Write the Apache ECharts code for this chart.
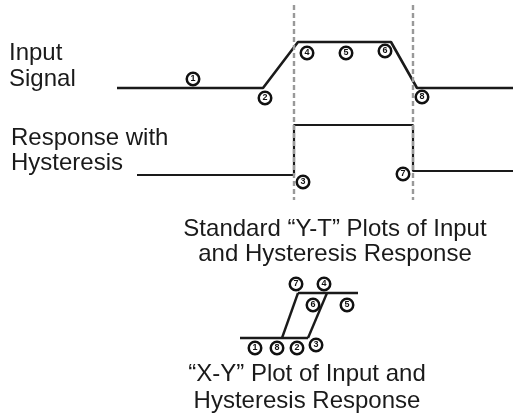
<!DOCTYPE html>
<html>
<head>
<meta charset="utf-8">
<script src="https://cdn.jsdelivr.net/npm/echarts@6/dist/echarts.min.js"></script>
<style>
  html, body { margin: 0; padding: 0; background: #fff; }
  #chart { width: 513px; height: 415px; }
</style>
</head>
<body>
<div id="chart"></div>
<script>
// diagram units: x to the right, y downwards (0..513 x 0..415)
// Y-T plot: input signal trace
const inputX = [117, 263, 298, 391, 417, 513];
const inputY = [88, 88, 42, 42, 88, 88];
// Y-T plot: response with hysteresis
const responseX = [137, 294, 294, 413, 413, 513];
const responseY = [175, 175, 125, 125, 171, 171];
// switching instants (dashed guides)
const switchX = [294, 413];
const guideTop = 5;
const guideBottom = 200;
// X-Y plot: hysteresis loop segments [x1, y1, x2, y2]
const loopSegments = [
  [240, 338, 308, 338],
  [282, 338, 298, 293],
  [308, 338, 327, 293],
  [298, 293, 358, 293]
];
// numbered markers
const markerLabels = ['1', '2', '3', '4', '5', '6', '7', '8'];
const markerYTx = [193, 265, 303, 307, 346, 385, 403, 422];
const markerYTy = [79, 98, 182, 53, 53, 51, 174, 97];
const markerXYx = [255, 297, 316, 324, 347, 313, 296, 277];
const markerXYy = [348, 348, 345, 284, 305, 305, 284, 348];

const chartDom = document.getElementById('chart');
const myChart = echarts.init(chartDom, null, { renderer: 'canvas' });

const zip = (xs, ys) => xs.map((x, i) => [x, ys[i]]);
const markerData = [];
markerLabels.forEach((l, i) => {
  markerData.push([markerYTx[i], markerYTy[i], l]);
  markerData.push([markerXYx[i], markerXYy[i], l]);
});

const font = 'Liberation Sans, Arial, Helvetica, sans-serif';
const textItem = (text, x, y, align) => ({
  type: 'text',
  x: x,
  y: y,
  style: {
    text: text,
    fill: '#1a1a1a',
    font: '24px ' + font,
    textAlign: align,
    textVerticalAlign: 'middle'
  }
});

const option = {
  animation: false,
  grid: { left: 0, right: 0, top: 0, bottom: 0 },
  xAxis: { type: 'value', min: 0, max: 513, show: false },
  yAxis: { type: 'value', min: 0, max: 415, inverse: true, show: false },
  graphic: [
    textItem('Input', 9, 53.5, 'left'),
    textItem('Signal', 9, 79.5, 'left'),
    textItem('Response with', 11, 138.5, 'left'),
    textItem('Hysteresis', 11, 163.5, 'left'),
    textItem('Standard \u201CY-T\u201D Plots of Input', 335, 229.5, 'center'),
    textItem('and Hysteresis Response', 335, 254.5, 'center'),
    textItem('\u201CX-Y\u201D Plot of Input and', 307, 374.5, 'center'),
    textItem('Hysteresis Response', 307, 401.5, 'center')
  ],
  series: [
    {
      name: 'Input Signal',
      type: 'line',
      data: zip(inputX, inputY),
      symbol: 'none',
      lineStyle: { color: '#1a1a1a', width: 2.6 },
      z: 2
    },
    {
      name: 'Response',
      type: 'line',
      data: zip(responseX, responseY),
      symbol: 'none',
      lineStyle: { color: '#1a1a1a', width: 2.2 },
      z: 2
    },
    {
      name: 'Switching',
      type: 'lines',
      coordinateSystem: 'cartesian2d',
      data: switchX.map(x => ({ coords: [[x, guideTop], [x, guideBottom]] })),
      lineStyle: { color: '#999', width: 2.4, type: [5, 3], opacity: 1 },
      z: 3
    },
    {
      name: 'X-Y loop',
      type: 'lines',
      coordinateSystem: 'cartesian2d',
      data: loopSegments.map(s => ({ coords: [[s[0], s[1]], [s[2], s[3]]] })),
      lineStyle: { color: '#1a1a1a', width: 2.4, opacity: 1 },
      z: 2
    },
    {
      name: 'Markers',
      type: 'scatter',
      data: markerData,
      symbol: 'circle',
      symbolSize: 12.5,
      itemStyle: { color: '#fff', borderColor: '#111', borderWidth: 2.5, opacity: 1 },
      label: {
        show: true,
        position: 'inside',
        formatter: p => p.value[2],
        fontSize: 9,
        fontWeight: 'bold',
        fontFamily: font,
        color: '#111'
      },
      z: 5
    }
  ]
};

option && myChart.setOption(option);
</script>
</body>
</html>
